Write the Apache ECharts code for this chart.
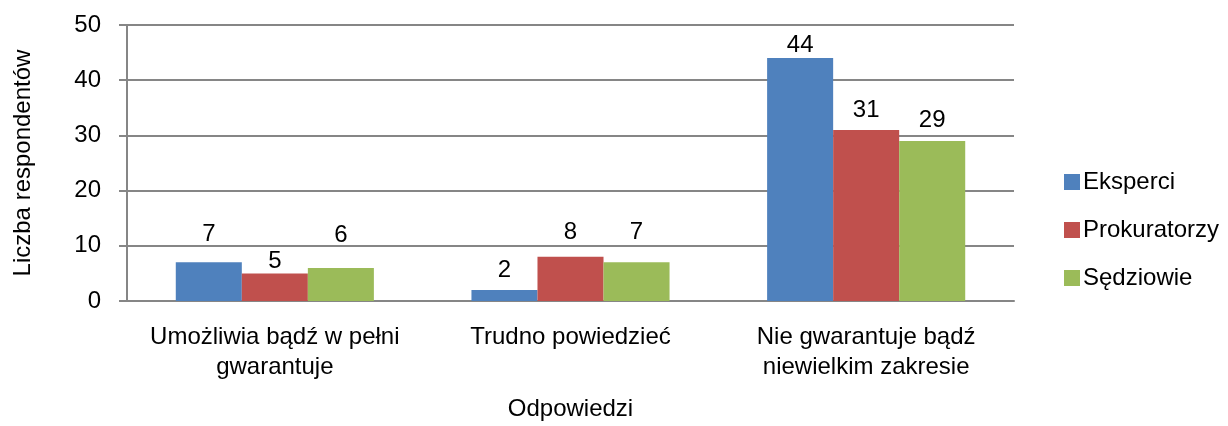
<!DOCTYPE html>
<html>
<head>
<meta charset="utf-8">
<script src="https://cdn.jsdelivr.net/npm/echarts@6/dist/echarts.min.js"></script>
<style>
  html, body { margin: 0; padding: 0; background: #fff; }
  #chart { width: 1228px; height: 426px; }
</style>
</head>
<body>
<div id="chart"></div>
<script>
  var categories = ['Umożliwia bądź w pełni\ngwarantuje', 'Trudno powiedzieć', 'Nie gwarantuje bądź\nniewielkim zakresie'];
  var eksperci = [7, 2, 44];
  var prokuratorzy = [5, 8, 31];
  var sedziowie = [6, 7, 29];
  var seriesNames = ['Eksperci', 'Prokuratorzy', 'Sędziowie'];
  var yTicks = [0, 50, 10]; // min, max, step

  // label distance above each bar (px), as placed in the original
  var labelGaps = [[16, 8, 1], [0, 12, 8], [21, 18, 9]];

  var font = 'Liberation Sans, Arial, sans-serif';
  var fs = 24;
  var gray = '#868686';

  function bar(i, data, color) {
    return {
      name: seriesNames[i],
      type: 'bar',
      data: data.map(function (v, j) {
        return { value: v, label: { distance: labelGaps[i][j] } };
      }),
      barGap: '0%',
      barCategoryGap: '33%',
      itemStyle: { color: color },
      label: {
        show: true,
        position: 'top',
        color: '#000',
        fontFamily: font,
        fontSize: fs
      }
    };
  }

  var chart = echarts.init(document.getElementById('chart'));
  chart.setOption({
    animation: false,
    textStyle: { fontFamily: font },
    grid: { left: 127, right: 214, top: 25, bottom: 125, containLabel: false },
    legend: {
      orient: 'vertical',
      left: 1059,
      top: 165,
      itemWidth: 16,
      itemHeight: 16,
      itemGap: 24,
      icon: 'rect',
      textStyle: { color: '#000', fontSize: fs, fontFamily: font, padding: [0, 0, 0, -2] },
      data: seriesNames
    },
    xAxis: {
      type: 'category',
      data: categories,
      name: 'Odpowiedzi',
      nameLocation: 'middle',
      nameGap: 96,
      nameTextStyle: { color: '#000', fontSize: fs, fontFamily: font },
      axisLine: { lineStyle: { color: gray, width: 2 } },
      axisTick: { show: false },
      axisLabel: { color: '#000', fontSize: fs, fontFamily: font, margin: 21, lineHeight: 30, interval: 0 }
    },
    yAxis: {
      type: 'value',
      min: yTicks[0],
      max: yTicks[1],
      interval: yTicks[2],
      name: 'Liczba respondentów',
      nameLocation: 'middle',
      nameRotate: 90,
      nameGap: 92,
      nameTextStyle: { color: '#000', fontSize: fs, fontFamily: font },
      axisLine: { show: true, lineStyle: { color: gray, width: 2 } },
      axisTick: { show: true, length: 8, lineStyle: { color: gray, width: 2 } },
      axisLabel: { color: '#000', fontSize: fs, fontFamily: font, margin: 26 },
      splitLine: { lineStyle: { color: gray, width: 2 } }
    },
    series: [
      bar(0, eksperci, '#4F81BD'),
      bar(1, prokuratorzy, '#C0504D'),
      bar(2, sedziowie, '#9BBB59')
    ]
  });
</script>
</body>
</html>
